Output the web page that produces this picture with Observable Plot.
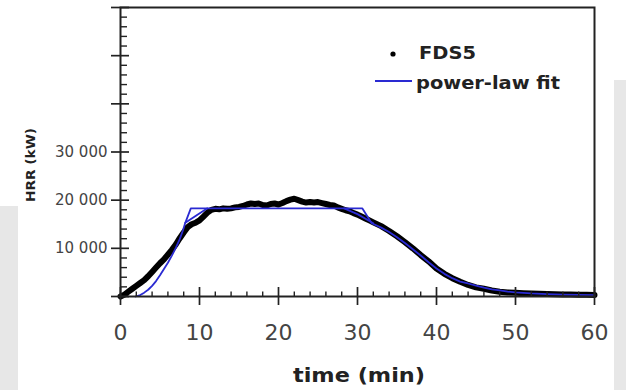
<!DOCTYPE html>
<html><head><meta charset="utf-8">
<script src="https://cdn.jsdelivr.net/npm/d3@7"></script>
<script src="https://cdn.jsdelivr.net/npm/@observablehq/plot@0.6"></script>
<style>
html,body{margin:0;padding:0;background:#fff;}
#wrap{position:relative;width:626px;height:390px;overflow:hidden;background:#fff;}
.pan{position:absolute;background:#e7e7e7;}
#chart{position:absolute;left:0;top:0;}
</style></head><body>
<div id="wrap">
<div class="pan" style="left:0;top:206px;width:18px;height:184px"></div>
<div class="pan" style="left:614px;top:80px;width:12px;height:310px"></div>
<div id="chart"></div>
</div>
<script>
// FDS5 simulated heat release rate (kW) vs time (min)
const fdsTime = [0,0.5,1,1.5,2,2.5,3,3.5,4,4.5,5,5.5,6,6.5,7,7.5,8,8.5,9,9.5,10,10.5,11,11.5,12,12.5,13,13.5,14,14.5,15,15.5,16,16.5,17,17.5,18,18.5,19,19.5,20,20.5,21,21.5,22,22.5,23,23.5,24,24.5,25,25.5,26,26.5,27,27.5,28,28.5,29,29.5,30,30.5,31,31.5,32,33,34,35,36,37,38,39,40,41,42,43,44,45,46,47,48,49,50,51,52,53,54,55,56,57,58,59,60];
const fdsHRR = [0,400,1000,1600,2200,2800,3400,4200,5100,6000,6900,7700,8700,9700,10800,12100,13300,14400,15000,15300,15800,16600,17400,18000,18200,18100,18300,18200,18300,18500,18600,18800,19100,19300,19200,19300,19000,18900,19200,19300,19100,19400,19800,20100,20300,20000,19700,19500,19600,19500,19600,19400,19200,19000,18900,18500,18200,17900,17700,17300,17000,16600,16200,15800,15400,14600,13600,12500,11300,10000,8600,7300,5800,4700,3800,3050,2400,1900,1600,1250,1000,850,770,680,600,550,500,460,430,400,380,350,330];

// power-law fit (main path and the two short edge segments)
const fitTime = [1.9,2.5,3,3.5,4,4.5,5,5.5,6,6.5,7,7.5,7.9,8.2,8.9,30.6,31.8,33,34,35,36,37,38,39,40,41,42,43,44,45,46,47,48,49,50,52,54,56,58,60];
const fitHRR  = [0,300,800,1400,2200,3200,4400,5700,7000,8500,10100,11900,13700,15300,18300,18300,15200,14300,13400,12300,11100,9800,8500,7100,5800,4700,3800,3100,2700,2250,1850,1500,1250,1020,860,630,490,400,330,280];
const edgeATime = [8.2,9.5,11];
const edgeAHRR  = [15300,16700,18300];
const edgeBTime = [28.3,30,32];
const edgeBHRR  = [18300,17100,15200];

const xMajor = [0,10,20,30,40,50,60];
const xTickLabels = ["0","10","20","30","40","50","60"];
const xMinor = [2,4,6,8,12,14,16,18,22,24,26,28,32,34,36,38,42,44,46,48,52,54,56,58];
const yMajor = [0,10000,20000,30000,40000,50000,60000];
const yMinor = [2000,4000,6000,8000,12000,14000,16000,18000,22000,24000,26000,28000,32000,34000,36000,38000,42000,44000,46000,48000,52000,54000,56000,58000];
const yLabelVals = [10000,20000,30000];
const yTickLabels = ["10 000","20 000","30 000"];

const xTitle = "time (min)";
const yTitle = "HRR (kW)";
const seriesNames = ["FDS5","power-law fit"];

const fds = fdsTime.map((t,i) => ({t, h: fdsHRR[i]}));
const fit = [
  ...fitTime.map((t,i) => ({t, h: fitHRR[i], seg: "main"})),
  ...edgeATime.map((t,i) => ({t, h: edgeAHRR[i], seg: "a"})),
  ...edgeBTime.map((t,i) => ({t, h: edgeBHRR[i], seg: "b"}))
];

const blank = () => "";
const svg = Plot.plot({
  width: 626, height: 390,
  marginLeft: 120, marginRight: 32, marginTop: 7, marginBottom: 94,
  x: {domain: [0,60], label: null},
  y: {domain: [0,60000], label: null},
  style: {background: "transparent", fontFamily: "DejaVu Sans", color: "#222", overflow: "visible"},
  marks: [
    Plot.line(fds, {x: "t", y: "h", stroke: "#000", strokeWidth: 6, strokeLinejoin: "round", strokeLinecap: "round"}),
    Plot.line(fit, {x: "t", y: "h", z: "seg", stroke: "#2a2ad2", strokeWidth: 1.8}),
    Plot.frame({stroke: "#222", strokeWidth: 2}),
    Plot.axisX(xMinor, {tickSize: 4.5, dy: -4.5, tickFormat: blank, label: null, strokeWidth: 1.4}),
    Plot.axisX(xMajor, {tickSize: 18, dy: -9, tickFormat: blank, label: null, strokeWidth: 1.7}),
    Plot.axisX(xMajor, {tickSize: 0, tickPadding: 28, tickFormat: d => xTickLabels[xMajor.indexOf(d)], label: null, fontSize: 22, fill: "#444"}),
    Plot.axisY(yMinor, {tickSize: 7, dx: 7, tickFormat: blank, label: null, strokeWidth: 1.4}),
    Plot.axisY(yMajor, {tickSize: 18, dx: 9, tickFormat: blank, label: null, strokeWidth: 1.7}),
    Plot.axisY(yLabelVals, {tickSize: 0, tickPadding: 13, tickFormat: d => yTickLabels[yLabelVals.indexOf(d)], label: null, fontSize: 15, fill: "#444"})
  ]
});
document.getElementById("chart").appendChild(svg);

const s = d3.select(svg);
const addText = (str, x, y, size, len) => s.append("text").text(str)
  .attr("x", x).attr("y", y).attr("text-anchor", "start")
  .attr("font-family", "DejaVu Sans").attr("font-weight", "bold").attr("font-size", size)
  .attr("fill", "#222").attr("textLength", len).attr("lengthAdjust", "spacingAndGlyphs");
// axis titles
addText(xTitle, 293, 382, 19, 132);
s.append("text").text(yTitle)
  .attr("transform", "translate(35,165) rotate(-90)")
  .attr("text-anchor", "middle")
  .attr("font-family", "DejaVu Sans").attr("font-weight", "bold").attr("font-size", 12)
  .attr("fill", "#222").attr("textLength", 74).attr("lengthAdjust", "spacingAndGlyphs");
// legend
s.append("circle").attr("cx", 393).attr("cy", 54).attr("r", 2.6).attr("fill", "#000");
addText(seriesNames[0], 419, 59, 17, 57);
s.append("line").attr("x1", 375).attr("x2", 412).attr("y1", 81).attr("y2", 81)
  .attr("stroke", "#2a2ad2").attr("stroke-width", 2);
addText(seriesNames[1], 416, 89, 17, 144);
</script>
</body></html>
